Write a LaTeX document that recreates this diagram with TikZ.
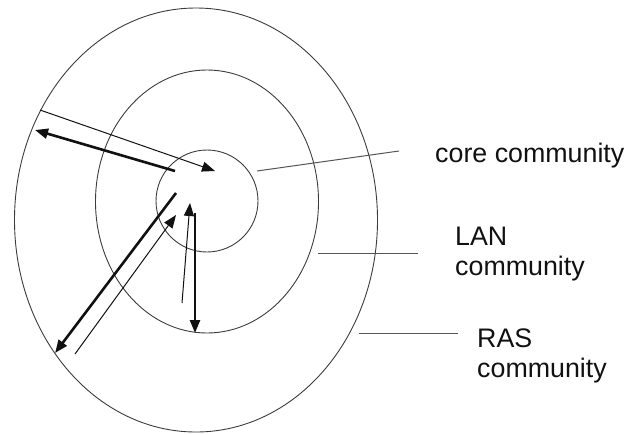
\documentclass[tikz,border=0pt]{standalone}
\usepackage{fontspec}
\setmainfont{Liberation Sans}
\usetikzlibrary{shapes.geometric,arrows.meta}
\definecolor{ringgray}{HTML}{3C3C3C}
\definecolor{leadgray}{HTML}{555555}
\definecolor{inkblack}{HTML}{111111}
\tikzset{
  ring/.style={ellipse, draw=ringgray, line width=0.9pt, inner sep=0pt, outer sep=0pt},
  leader/.style={draw=leadgray, line width=1pt},
  thinarrow/.style={draw=inkblack, line width=1pt, -{Triangle[length=13pt,width=10pt]}},
  thickarrow/.style={draw=inkblack, line width=2.6pt, -{Triangle[length=13pt,width=10pt]}},
  label/.style={inner sep=0pt, anchor=base west, align=left, text=inkblack,
    font=\fontsize{26.8}{30}\selectfont}
}
\begin{document}
\begin{tikzpicture}[x=1pt,y=-1pt]
\useasboundingbox (0,0) rectangle (628,434);
% rings
\node[ring, minimum width=363pt, minimum height=424pt] (outer) at (196,220) {};
\node[ring, minimum width=223pt, minimum height=263pt] (middle) at (207,201.5) {};
\node[ring, minimum width=102pt, minimum height=102pt] (inner) at (207,201) {};
% labels (base anchor = last line's baseline)
\node[label] (core) at (435,162) {core community};
\node[label] (lan) at (455,275) {LAN\\community};
\node[label] (ras) at (477,377) {RAS\\community};
% leader lines
\coordinate (c1) at (257,171); \coordinate (c2) at (399,151);
\coordinate (l1) at (318,253); \coordinate (l2) at (418,253);
\coordinate (r1) at (359,333); \coordinate (r2) at (458,333);
\draw[leader] (c1) -- (c2);
\draw[leader] (l1) -- (l2);
\draw[leader] (r1) -- (r2);
% arrows
\coordinate (a1) at (40,110);  \coordinate (a2) at (215,171);
\coordinate (b1) at (175,171); \coordinate (b2) at (35,130);
\coordinate (d1) at (75,354);  \coordinate (d2) at (176,215);
\coordinate (e1) at (176,193); \coordinate (e2) at (55,353);
\coordinate (f1) at (182,303); \coordinate (f2) at (190,203);
\coordinate (g1) at (195,213); \coordinate (g2) at (195,333);
\draw[thinarrow] (a1) -- (a2);
\draw[thickarrow] (b1) -- (b2);
\draw[thinarrow] (d1) -- (d2);
\draw[thickarrow] (e1) -- (e2);
\draw[thinarrow] (f1) -- (f2);
\draw[thickarrow] (g1) -- (g2);
\end{tikzpicture}
\end{document}
